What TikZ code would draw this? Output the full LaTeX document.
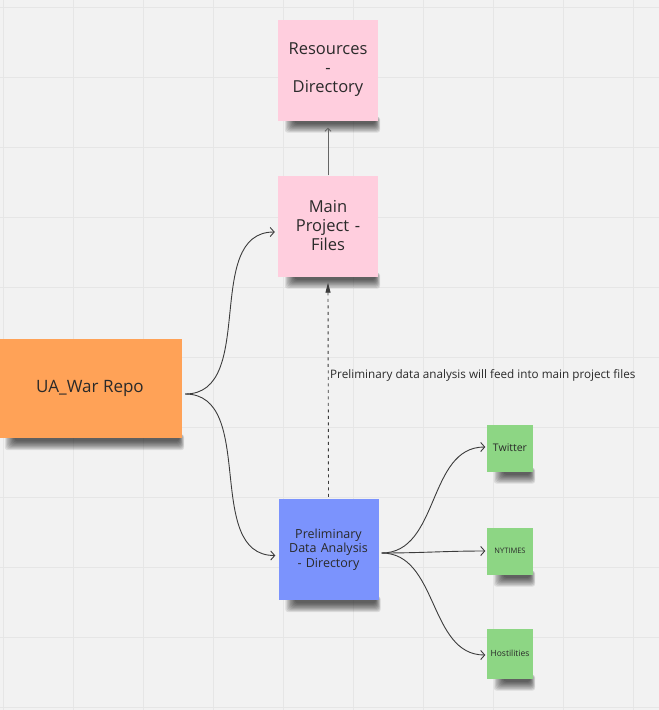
\documentclass[tikz,border=0pt]{standalone}
\usepackage{fontspec}
\setmainfont{Open Sans}
\usetikzlibrary{arrows.meta,calc}
\definecolor{bgc}{HTML}{F2F2F2}
\definecolor{gridc}{HTML}{E6E6E6}
\definecolor{pinkc}{HTML}{FFCEDE}
\definecolor{orangec}{HTML}{FFA257}
\definecolor{bluec}{HTML}{7B93FD}
\definecolor{greenc}{HTML}{8DD684}
\definecolor{linec}{HTML}{3C3C3C}
\definecolor{textc}{HTML}{2A2A2A}
\newcommand{\noteshadow}[1]{%
  \foreach \k in {0,...,8} {
    \fill[black,opacity=.095,rounded corners=3pt]
      ([xshift={7pt+1.2pt*\k},yshift=4pt]#1.south west) rectangle
      ([xshift={2pt-0.6pt*\k},yshift={-12pt+1.1pt*\k}]#1.south east);
  }
}
\tikzset{
  x=1pt,y=-1pt,
  note/.style={draw=none,inner sep=2pt,align=center,text=textc},
  bignote/.style={note,minimum width=100pt,minimum height=101pt,text width=92pt,font=\fontsize{16.5}{19}\selectfont},
  smallnote/.style={note,fill=greenc,minimum width=46pt,minimum height=47pt,inner sep=0pt},
  conn/.style={draw=linec,line width=0.9pt,-{Straight Barb[length=4pt,width=9pt,line width=0.9pt]}},
}
\begin{document}
\begin{tikzpicture}
\useasboundingbox (0,0) rectangle (659,710);
\fill[bgc] (0,0) rectangle (659,710);
\foreach \gx in {3,73,...,663} {\draw[gridc,line width=1pt] (\gx,0) -- (\gx,710);}
\foreach \gy in {7,77,...,707} {\draw[gridc,line width=1pt] (0,\gy) -- (659,\gy);}

% placeholder nodes, to draw shadows underneath the notes
\path
  node[bignote] (res) at (328,70) {}
  node[bignote] (main) at (328,226) {}
  node[note,minimum width=184pt,minimum height=99pt] (ua) at (90,388.5) {}
  node[bignote] (pre) at (328.5,549.5) {}
  node[smallnote,fill=none] (tw) at (510,448) {}
  node[smallnote,fill=none] (ny) at (510,551) {}
  node[smallnote,fill=none,minimum height=50pt] (ho) at (510,653.5) {};

\noteshadow{res}\noteshadow{main}\noteshadow{ua}\noteshadow{pre}\noteshadow{tw}\noteshadow{ny}\noteshadow{ho}

\node[bignote,fill=pinkc] (res) at (328,70) {Resources\\-\\Directory};
\node[bignote,fill=pinkc] (main) at (328,226) {Main\\Project -\\Files};
\node[note,fill=orangec,minimum width=184pt,minimum height=99pt,font=\fontsize{17}{20}\selectfont] (ua) at (90,388.5) {UA\_War Repo};
\node[bignote,fill=bluec,font=\fontsize{12.5}{14.5}\selectfont] (pre) at (328.5,549.5) {Preliminary\\Data Analysis\\- Directory};
\node[smallnote,font=\fontsize{10.5}{12}\selectfont] (tw) at (510,448) {Twitter};
\node[smallnote,font=\fontsize{7.5}{9}\selectfont] (ny) at (510,551) {NYTIMES};
\node[smallnote,minimum height=50pt,font=\fontsize{8.5}{10}\selectfont] (ho) at (510,653.5) {Hostilities};

% connectors
\coordinate (uaout) at ($(ua.east)+(3,5.5)$);
\coordinate (preout) at ($(pre.east)+(3,3.5)$);
\draw[conn] (uaout) to[out=0,in=180] ($(main.west)+(-3,6)$);
\draw[conn] (uaout) to[out=0,in=180] ($(pre.west)+(-3,6)$);
\draw[draw=gray!80!black,line width=0.8pt,-{Straight Barb[length=3pt,width=6pt,line width=0.8pt]}] (main.north) -- ($(res.south)+(0,7)$);
\draw[draw=linec,line width=0.9pt,dash pattern=on 3pt off 3.5pt,-{Triangle[length=10pt,width=5pt]}] ($(pre.north)+(0,-2)$) -- ($(main.south)+(0,6)$);
\draw[conn] (preout) to[out=0,in=180] ($(tw.west)+(-1.5,-1)$);
\draw[conn] (preout) to[out=0,in=180] ($(ny.west)+(-1.5,0)$);
\draw[conn] (preout) to[out=0,in=180] ($(ho.west)+(-1.5,1.5)$);

\node[anchor=west,inner sep=0pt,text=textc,font=\fontsize{11.7}{13}\selectfont] (lbl) at (330,375) {Preliminary data analysis will feed into main project files};
\end{tikzpicture}
\end{document}
